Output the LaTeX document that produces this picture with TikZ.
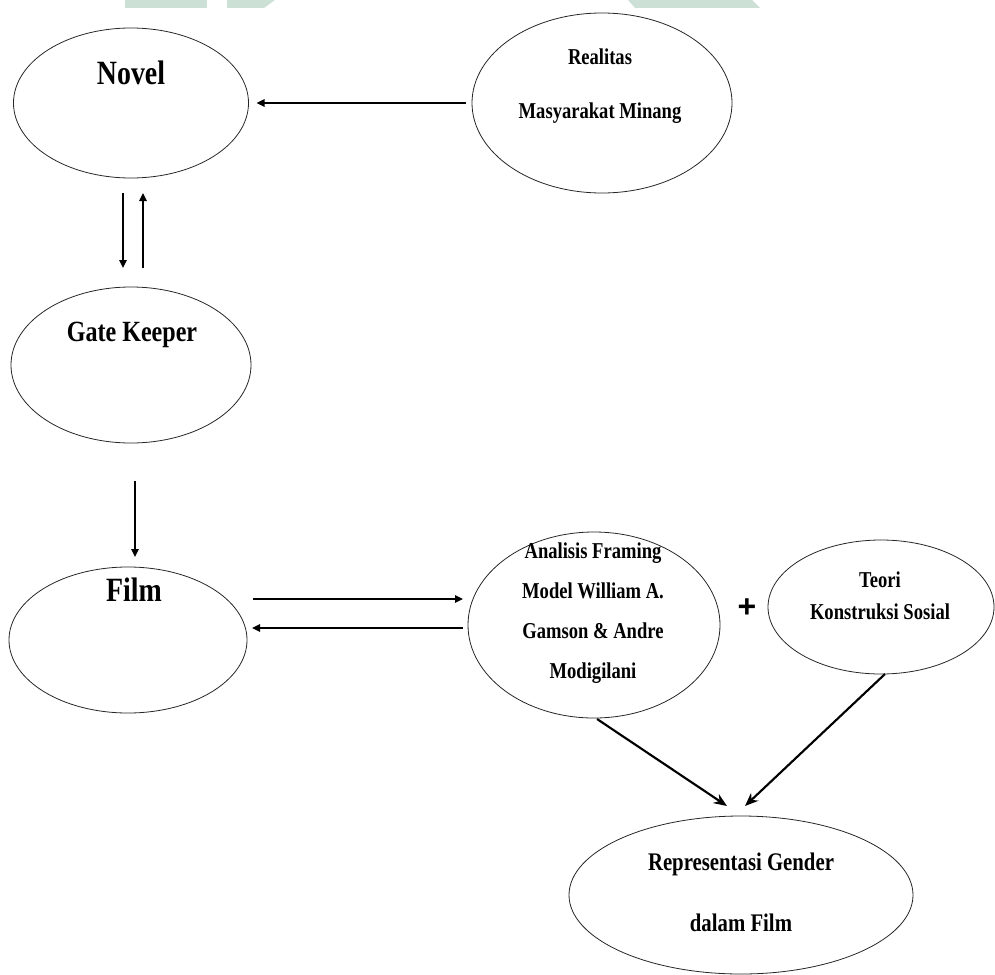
\documentclass[tikz,border=0pt]{standalone}
\usepackage{fontspec}
\setmainfont{Liberation Serif}[FakeStretch=0.82]
\newfontfamily\plusfont{Liberation Sans}
\usetikzlibrary{shapes.geometric,arrows.meta,calc}

\definecolor{wmgreen}{RGB}{204,224,214}

\tikzset{every picture/.style={line width=0.75pt}}
\tikzset{
	bubble/.style={ellipse, draw=black!85, line width=0.6pt, inner sep=0pt, outer sep=0pt},
	lbl/.style={inner sep=0pt, align=center, font=\bfseries},
	arr/.style={line width=1.4pt, -{Triangle[length=6pt,width=5.5pt]}},
	darr/.style={line width=1.6pt, -{Stealth[length=10pt,width=8pt]}}
}

\begin{document}
\begin{tikzpicture}[x=0.75pt,y=0.75pt,yscale=-1,xscale=1]
		\useasboundingbox (0,0) rectangle (995,974);
		
		%watermark at the top edge
		\fill [wmgreen] (125,0) -- (207,0) -- (207,8) -- (125,8) -- cycle ;
		\fill [wmgreen] (227,0) -- (275,0) -- (264,8) -- (227,8) -- cycle ;
		\fill [wmgreen] (628,0) -- (752,0) -- (760,8) -- (635,8) -- cycle ;
		
		%ellipses
		\node [bubble, minimum width=176.25pt, minimum height=112.5pt] (novel) at (131,103) {};
		\node [bubble, minimum width=195pt, minimum height=135pt] (realitas) at (602,103) {};
		\node [bubble, minimum width=180pt, minimum height=117pt] (gate) at (131,365) {};
		\node [bubble, minimum width=178.5pt, minimum height=109.5pt] (film) at (128,640) {};
		\node [bubble, minimum width=189pt, minimum height=139.5pt] (analisis) at (594,625) {};
		\node [bubble, minimum width=169.5pt, minimum height=100.5pt] (teori) at (881,607) {};
		\node [bubble, minimum width=258pt, minimum height=118.5pt] (gender) at (741,895) {};
		
		%texts
		\node [lbl, font=\fontsize{25.5}{30}\selectfont\bfseries] (novel-t) at (131,73) {Novel};
		\node [lbl, font=\fontsize{17}{40}\selectfont\bfseries] (realitas-t) at (600,86) {Realitas\\Masyarakat Minang};
		\node [lbl, font=\fontsize{22}{26}\selectfont\bfseries] (gate-t) at (132,335) {Gate Keeper};
		\node [lbl, font=\fontsize{25.5}{30}\selectfont\bfseries] (film-t) at (134,590) {Film};
		\node [lbl, font=\fontsize{17}{30}\selectfont\bfseries] (analisis-t) at (593,613) {Analisis Framing\\Model William A.\\Gamson \& Andre\\Modigilani};
		\node [lbl, font=\fontsize{17}{24}\selectfont\bfseries] (teori-t) at (880,596) {Teori\\Konstruksi Sosial};
		\node [lbl, font=\fontsize{19}{46}\selectfont\bfseries] (gender-t) at (741,892) {Representasi Gender\\dalam Film};
		\node [inner sep=0pt, font=\fontsize{24}{24}\plusfont\bfseries] (plus) at (747,608) {+};
		
		%arrows
		\draw [arr] ($(realitas.west)+(-6,0)$) -- ($(novel.east)+(8,0)$);
		\draw [arr] ($(novel.south)+(-8,15)$) -- ($(gate.north)+(-8,-19)$);
		\draw [arr] ($(gate.north)+(12,-19)$) -- ($(novel.south)+(12,15)$);
		\draw [arr] ($(gate.south)+(4,38)$) -- ($(film.north)+(7,-10)$);
		\draw [arr] ($(film.east)+(6,-41)$) -- ($(analisis.west)+(-5,-26)$);
		\draw [arr] ($(analisis.west)+(-5,3)$) -- ($(film.east)+(5,-12)$);
		\draw [darr] ($(analisis.south)+(3,1)$) -- ($(gender.north)+(-14,-10)$);
		\draw [darr] ($(teori.south)+(4,0)$) -- ($(gender.north)+(4,-10)$);
		
	\end{tikzpicture}
\end{document}
